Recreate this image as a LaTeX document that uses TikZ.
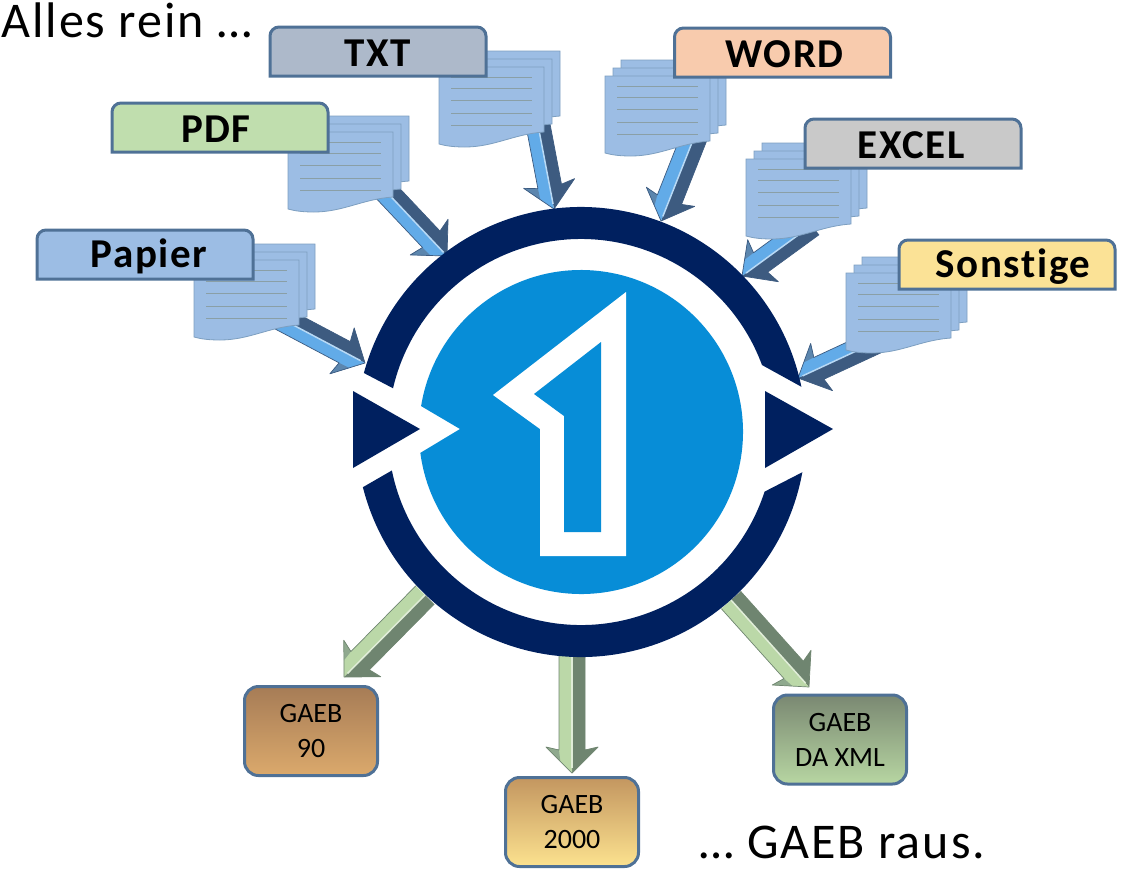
\documentclass[tikz,border=0pt]{standalone}
\usepackage{fontspec}
\setmainfont{Carlito}
\newfontfamily\labelfont[LetterSpace=4,Ligatures=NoCommon]{Carlito}
\newfontfamily\bigfont[LetterSpace=4,Ligatures=NoCommon]{Carlito}
\usetikzlibrary{calc}
\definecolor{ringnavy}{HTML}{00205F}
\definecolor{discblue}{HTML}{078DD7}
\definecolor{boxedge}{HTML}{4F7196}
\definecolor{sheetfill}{HTML}{9CBDE4}
\definecolor{sheetedge}{HTML}{7D9FC0}
\definecolor{sheetline}{HTML}{8A9FA6}
\definecolor{bluelight}{HTML}{62ABE8}
\definecolor{bluedark}{HTML}{3D5B80}
\definecolor{bluemid}{HTML}{5C86AE}
\definecolor{greenlight}{HTML}{BBD8A8}
\definecolor{greendark}{HTML}{6F8570}
\definecolor{greenmid}{HTML}{8FA98E}
\definecolor{pdffill}{HTML}{C0DEAE}
\definecolor{txtfill}{HTML}{ADB9CA}
\definecolor{wordfill}{HTML}{F8CBAD}
\definecolor{excelfill}{HTML}{C9C9C9}
\definecolor{sonstfill}{HTML}{FBE296}
\definecolor{gaebtopa}{HTML}{A67C56}
\definecolor{gaebbota}{HTML}{DBA96C}
\definecolor{gaebtopb}{HTML}{C39660}
\definecolor{gaebbotb}{HTML}{FCE28F}
\definecolor{gaebtopc}{HTML}{7A8872}
\definecolor{gaebbotc}{HTML}{B7D6A2}
\tikzset{
 boxtext/.style={font=\labelfont\bfseries\fontsize{41}{41}\selectfont, inner sep=0pt},
 gaebbox/.style={draw=boxedge, line width=3pt, rounded corners=14pt, minimum width=133pt, minimum height=89pt, align=center, inner sep=0pt, font=\fontsize{28}{35}\selectfont},
 bigtext/.style={anchor=base west, inner sep=0pt, font=\bigfont\fontsize{50}{50}\selectfont},
 docline/.style={sheetline, line width=1pt},
}
\newcommand{\fatarrow}[4]{
 \coordinate (hb) at ($(#4)!26pt!(#3)$);
 \coordinate (hj) at ($(#4)!23pt!(#3)$);
 \coordinate (sl) at ($(#3)!#2pt!90:(#4)$);
 \coordinate (sr) at ($(#3)!#2pt!-90:(#4)$);
 \coordinate (jl) at ($(hj)!#2pt!90:(#4)$);
 \coordinate (jr) at ($(hj)!#2pt!-90:(#4)$);
 \coordinate (bl) at ($(hb)!26pt!90:(#4)$);
 \coordinate (br) at ($(hb)!26pt!-90:(#4)$);
 \fill[#1dark] (#3) -- (sl) -- (jl) -- (bl) -- (#4) -- cycle;
 \fill[#1light] (#3) -- (sr) -- (jr) -- (br) -- (#4) -- cycle;
 \fill[#1mid] (br) -- (jr) -- ($(br)!.55!(#4)$) -- cycle;
 \draw[#1light!45!white, line width=1.5pt] (#3) -- ($(#4)!5pt!(#3)$);
 \draw[#1dark, line width=.7pt, line join=round] (sl) -- (jl) -- (bl) -- (#4) -- (br) -- (jr) -- (sr);
}
\newcommand{\docstack}[2]{
 \begin{scope}[shift={(#1,#2)}]
 \foreach \dd in {16,8,0}
  \draw[fill=sheetfill, draw=sheetedge, line width=.8pt, shift={(\dd,\dd)}] (0,0) -- (105,0) -- (105,-65) .. controls (75,-67) and (55,-80) .. (26,-80) .. controls (15,-80) and (7,-79) .. (0,-77) -- cycle;
 \foreach \ly in {10,21,33,46,58}
  \draw[docline] (12,-\ly) -- (93,-\ly);
 \end{scope}
}
\newcommand{\labelbox}[6]{
 \draw[fill=#4, draw=boxedge, line width=3pt] ($(#2,#3)+(-108,-24.5)$) [rounded corners=9pt] -- ($(#2,#3)+(-108,24.5)$) -- ($(#2,#3)+(108,24.5)$) [sharp corners] -- ($(#2,#3)+(108,-24.5)$) -- cycle;
 \node[boxtext] (#1) at ($(#2,#3)+(#6,-2)$) {#5};
}
\begin{document}
\begin{tikzpicture}[x=1pt,y=1pt]
 \useasboundingbox (0,0) rectangle (1128,-871);
%
 \coordinate (papierstart) at (280,-318);
 \coordinate (papiertip) at (365,-363);
 \coordinate (pdfstart) at (380,-185);
 \coordinate (pdftip) at (447,-256);
 \coordinate (txtstart) at (538,-125);
 \coordinate (txttip) at (554,-209);
 \coordinate (wordstart) at (695,-135);
 \coordinate (wordtip) at (661,-221);
 \coordinate (excelstart) at (812,-225);
 \coordinate (exceltip) at (742,-276);
 \coordinate (sonstigestart) at (880,-340);
 \coordinate (sonstigetip) at (798,-378);
 \coordinate (altstart) at (425,-595);
 \coordinate (alttip) at (344,-677);
 \coordinate (midstart) at (572,-650);
 \coordinate (midtip) at (572,-773);
 \coordinate (xmlstart) at (731,-600);
 \coordinate (xmltip) at (809,-687);
%
 \fatarrow{blue}{12}{papierstart}{papiertip}
 \fatarrow{blue}{12}{pdfstart}{pdftip}
 \fatarrow{blue}{12}{txtstart}{txttip}
 \fatarrow{blue}{13}{wordstart}{wordtip}
 \fatarrow{blue}{12}{excelstart}{exceltip}
 \fatarrow{blue}{12}{sonstigestart}{sonstigetip}
 \fatarrow{green}{13}{altstart}{alttip}
 \fatarrow{green}{13}{midstart}{midtip}
 \fatarrow{green}{13}{xmlstart}{xmltip}
%
 \docstack{194}{-260}
 \docstack{288}{-132}
 \docstack{439}{-67}
 \docstack{605}{-76}
 \docstack{746}{-159}
 \docstack{846}{-273}
%
 \labelbox{papier}{145}{-254.5}{sheetfill}{Papier}{4}
 \labelbox{pdf}{220}{-127.5}{pdffill}{PDF}{-4}
 \labelbox{txt}{378}{-51.5}{txtfill}{TXT}{0}
 \labelbox{word}{782.5}{-52.5}{wordfill}{WORD}{2}
 \labelbox{excel}{913}{-143.5}{excelfill}{EXCEL}{-2}
 \labelbox{sonstige}{1007}{-264.5}{sonstfill}{Sonstige}{6}
%
 \begin{scope}[shift={(581,-432)}]
 \fill[ringnavy] (164.8:225) arc (164.8:11.6:225) -- (20.3:193) arc (20.3:166.9:193) -- cycle;
 \fill[ringnavy] (194.2:225) arc (194.2:349.7:225) -- (342:193) arc (342:191.5:193) -- cycle;
 \fill[discblue] (170.8:162) arc (170.8:-172.6:162) -- (-121,3) -- cycle;
 \end{scope}
 \fill[ringnavy] (353,-391) -- (420,-429) -- (353,-468) -- cycle;
 \fill[ringnavy] (765,-391) -- (833,-429) -- (765,-468) -- cycle;
 \fill[white] (626,-292) -- (493,-395) -- (540,-429) -- (540,-556) -- (626,-556) -- cycle;
 \fill[discblue] (601,-342) -- (534,-394) -- (564,-416) -- (564,-532) -- (601,-532) -- cycle;
%
 \node[gaebbox, top color=gaebtopa, bottom color=gaebbota] (gaebalt) at (311,-731) {GAEB\\90};
 \node[gaebbox, top color=gaebtopb, bottom color=gaebbotb] (gaebmid) at (572,-822) {GAEB\\2000};
 \node[gaebbox, top color=gaebtopc, bottom color=gaebbotc] (gaebxml) at (840,-739.5) {GAEB\\DA XML};
%
 \node[bigtext] (rein) at (1,-37.5) {Alles rein …};
 \node[bigtext] (raus) at (699,-858) {… GAEB raus.};
\end{tikzpicture}
\end{document}
